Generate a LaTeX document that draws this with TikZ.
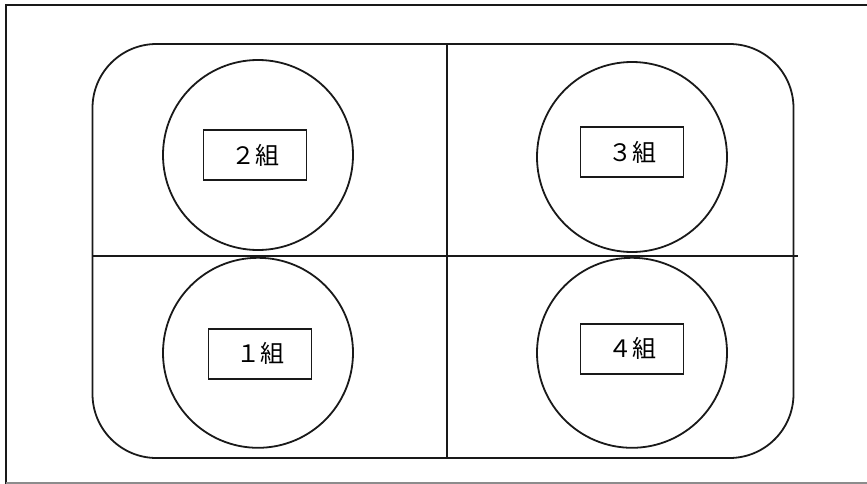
\documentclass[tikz,border=0pt]{standalone}
\usepackage{fontspec}
\newfontfamily\jpfont{Noto Sans CJK JP}
\usetikzlibrary{positioning}

\tikzset{
  line/.style={line width=1.8pt, draw=black!90},
  table/.style={line, circle, minimum size=190pt, inner sep=0pt},
  tag/.style={line, rectangle, minimum width=103pt, minimum height=50pt,
    inner sep=0pt, font=\jpfont\fontsize{24pt}{28pt}\selectfont},
}

\begin{document}
\begin{tikzpicture}[x=1pt, y=-1pt]
\useasboundingbox (0,0) rectangle (867,484);
\clip (0,0) rectangle (867,484);

% sheet frame, cut off on the right
\draw[line] (880,5) -- (6,5) -- (6,484);
\draw[line, draw=black!45] (6,483) -- (880,483);

% tray
\node[line, rectangle, rounded corners=64pt, minimum width=701pt,
  minimum height=414pt, inner sep=0pt] (tray) at (443,251) {};

\coordinate (v1) at (447,44);
\coordinate (v2) at (447,458);
\coordinate (h1) at (93,256);
\coordinate (h2) at (798,256);

\draw[line]
    (v1) -- (v2)
    (h1) -- (h2)
    ;

% tables
\node[table] (t2) at (258,155) {};
\node[table, below=6pt of t2] (t1) {};
\node[table] (t3) at (632,157) {};
\node[table, below=4pt of t3] (t4) {};

\node[tag] (g2) at ([xshift=-3pt]t2) {２組};
\node[tag] (g1) at ([xshift=2pt, yshift=-1pt]t1) {１組};
\node[tag] (g3) at ([yshift=5pt]t3) {３組};
\node[tag] (g4) at ([yshift=4pt]t4) {４組};
\end{tikzpicture}
\end{document}
